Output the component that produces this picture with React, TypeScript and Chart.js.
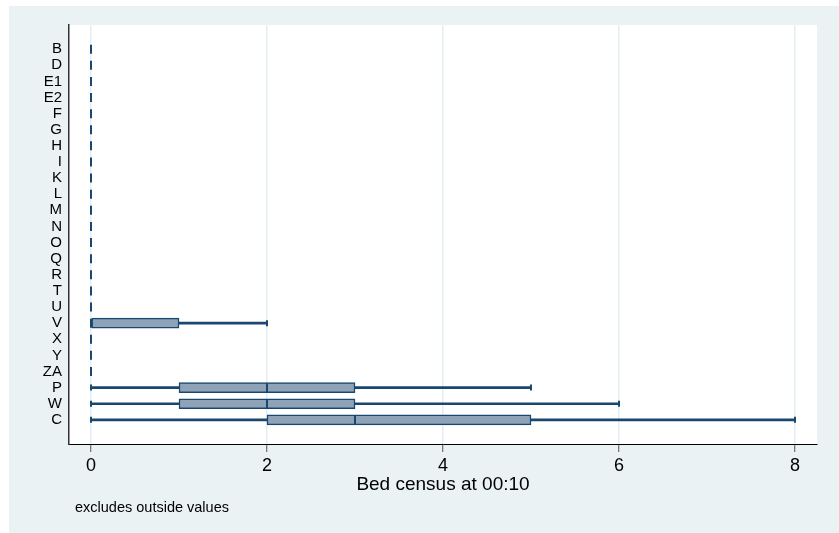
import React, { useEffect, useRef } from 'react';
import { Chart, registerables } from 'chart.js';

Chart.register(...registerables);

const categories = ['B', 'D', 'E1', 'E2', 'F', 'G', 'H', 'I', 'K', 'L', 'M', 'N', 'O', 'Q', 'R', 'T', 'U', 'V', 'X', 'Y', 'ZA', 'P', 'W', 'C'];
//                    B  D E1 E2 F  G  H  I  K  L  M  N  O  Q  R  T  U  V  X  Y ZA  P  W  C
const minVals =     [0, 0, 0, 0, 0, 0, 0, 0, 0, 0, 0, 0, 0, 0, 0, 0, 0, 0, 0, 0, 0, 0, 0, 0];
const q1Vals =      [0, 0, 0, 0, 0, 0, 0, 0, 0, 0, 0, 0, 0, 0, 0, 0, 0, 0, 0, 0, 0, 1, 1, 2];
const medianVals =  [0, 0, 0, 0, 0, 0, 0, 0, 0, 0, 0, 0, 0, 0, 0, 0, 0, 0, 0, 0, 0, 2, 2, 3];
const q3Vals =      [0, 0, 0, 0, 0, 0, 0, 0, 0, 0, 0, 0, 0, 0, 0, 0, 0, 1, 0, 0, 0, 3, 3, 5];
const maxVals =     [0, 0, 0, 0, 0, 0, 0, 0, 0, 0, 0, 0, 0, 0, 0, 0, 0, 2, 0, 0, 0, 5, 6, 8];
const xTicks = [0, 2, 4, 6, 8];
const xTitle = 'Bed census at 00:10';
const noteText = 'excludes outside values';

const NAVY = '#1a476f';
const BOX_FILL = '#8fa3b8';
const FONT = "'Liberation Sans', Arial, Helvetica, sans-serif";

export default function App() {
  const canvasRef = useRef<HTMLCanvasElement | null>(null);

  useEffect(() => {
    document.body.style.margin = '0';
    const canvas = canvasRef.current;
    if (!canvas) return;
    Chart.defaults.font.family = FONT;

    const plotBg = {
      id: 'plotBg',
      beforeDraw(chart: any) {
        const { ctx, chartArea } = chart;
        ctx.save();
        ctx.fillStyle = '#ffffff';
        ctx.fillRect(chartArea.left, chartArea.top, chartArea.right - chartArea.left, chartArea.bottom - chartArea.top);
        ctx.restore();
      },
    };
    const note = {
      id: 'note',
      afterDraw(chart: any) {
        const { ctx, chartArea } = chart;
        ctx.save();
        ctx.fillStyle = '#000';
        ctx.font = `14.5px ${FONT}`;
        ctx.textBaseline = 'middle';
        ctx.textAlign = 'left';
        ctx.fillText(noteText, chartArea.left + 6, chartArea.bottom + 64);
        ctx.restore();
      },
    };

    const idx = categories.map((_, i) => i);

    const chart = new Chart(canvas, {
      type: 'bar',
      data: {
        datasets: [
          {
            type: 'scatter',
            data: idx.map((i) => ({ x: medianVals[i], y: i })),
            pointStyle: 'line',
            rotation: 90,
            radius: 4.5,
            borderColor: NAVY,
            borderWidth: 2,
            order: 0,
          } as any,
          {
            type: 'scatter',
            data: idx.flatMap((i) => [
              { x: minVals[i], y: i },
              { x: maxVals[i], y: i },
            ]),
            pointStyle: 'line',
            rotation: 90,
            radius: 3,
            borderColor: NAVY,
            borderWidth: 2,
            order: 1,
          } as any,
          {
            type: 'bar',
            indexAxis: 'y',
            data: idx.map((i) => ({ y: i, x: [q1Vals[i], q3Vals[i]] })),
            backgroundColor: BOX_FILL,
            borderColor: NAVY,
            borderWidth: 1.5,
            borderSkipped: false,
            barThickness: 10,
            grouped: false,
            order: 2,
          } as any,
          {
            type: 'bar',
            indexAxis: 'y',
            data: idx.map((i) => ({ y: i, x: [minVals[i], q1Vals[i]] })),
            backgroundColor: NAVY,
            borderWidth: 0,
            barThickness: 2,
            grouped: false,
            order: 3,
          } as any,
          {
            type: 'bar',
            indexAxis: 'y',
            data: idx.map((i) => ({ y: i, x: [q3Vals[i], maxVals[i]] })),
            backgroundColor: NAVY,
            borderWidth: 0,
            barThickness: 2,
            grouped: false,
            order: 3,
          } as any,
        ],
      },
      options: {
        indexAxis: 'y',
        animation: false,
        responsive: false,
        events: [],
        layout: { padding: { top: 19, right: 22, left: 0, bottom: 0 } },
        plugins: {
          legend: { display: false },
          tooltip: { enabled: false },
        },
        scales: {
          x: {
            type: 'linear',
            min: -0.25,
            max: 8.25,
            offset: false,
            afterBuildTicks: (scale: any) => {
              scale.ticks = xTicks.map((v) => ({ value: v }));
            },
            afterFit: (scale: any) => {
              scale.height = 89;
            },
            grid: {
              color: '#e4edf1',
              lineWidth: 1.5,
              tickColor: '#555',
              tickLength: 8,
              tickWidth: 1,
              offset: false,
            },
            border: { display: true, color: '#000', width: 1 },
            ticks: {
              color: '#000',
              font: { size: 18, family: FONT },
              padding: 3,
              maxRotation: 0,
              autoSkip: false,
            },
            title: {
              display: true,
              text: xTitle,
              color: '#000',
              font: { size: 19, family: FONT },
              padding: { top: 0, bottom: 37 },
            },
          },
          y: {
            type: 'linear',
            min: -1.5,
            max: 24.5,
            reverse: true,
            offset: false,
            beginAtZero: false,
            afterBuildTicks: (scale: any) => {
              scale.ticks = idx.map((v) => ({ value: v }));
            },
            afterFit: (scale: any) => {
              scale.width = 60;
            },
            grid: { display: false, drawTicks: false, offset: false },
            border: { display: true, color: '#333', width: 1.5 },
            ticks: {
              color: '#000',
              font: { size: 15, family: FONT },
              padding: 7,
              autoSkip: false,
              callback: (v: any) => categories[v as number] ?? '',
            },
          },
        },
      },
      plugins: [plotBg, note],
    } as any);

    return () => chart.destroy();
  }, []);

  return (
    <div
      style={{
        position: 'absolute',
        left: 9,
        top: 6,
        width: 830,
        height: 527,
        background: 'rgb(234,242,243)',
      }}
    >
      <canvas ref={canvasRef} width={830} height={527} style={{ display: 'block' }} />
    </div>
  );
}
